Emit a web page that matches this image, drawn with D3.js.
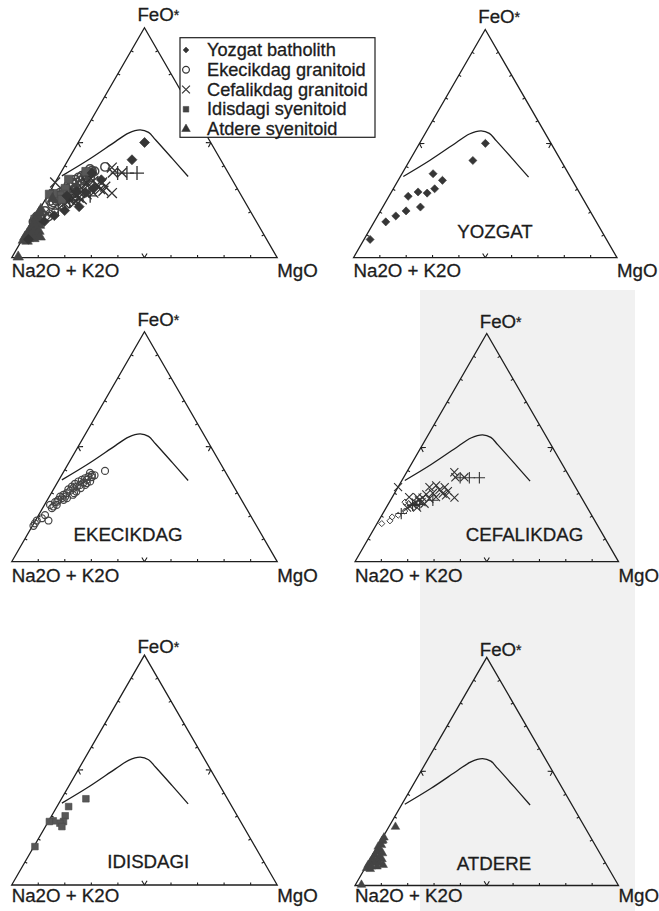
<!DOCTYPE html>
<html>
<head>
<meta charset="utf-8">
<script src="https://cdn.jsdelivr.net/npm/d3@7/dist/d3.min.js"></script>
<style>
  html, body { margin: 0; padding: 0; background: #fff; }
  svg { display: block; }
  text { font-family: "Liberation Sans", Arial, Helvetica, sans-serif; fill: #1c1c1c;
         stroke: #1c1c1c; stroke-width: 0.3; }
</style>
</head>
<body>
<svg id="chart" width="659" height="911"></svg>
<script>
// AFM diagrams: each sample is [Na2O+K2O, FeO*, MgO], normalised to 100
const apexLabels = ["Na2O + K2O", "FeO", "MgO"];

const yozgat = [
  [24.9, 50.1, 25.0], [33.4, 42.6, 24.0], [51.4, 36.8, 11.8], [49.3, 33.9, 16.8],
  [65.8, 26.9, 7.3], [61.1, 28.8, 10.1], [57.9, 28.3, 13.8], [54.1, 30.2, 15.7],
  [63.5, 22.2, 14.3], [69.8, 20.5, 9.7], [74.8, 18.3, 6.9], [79.9, 15.7, 4.4],
  [89.7, 8.0, 2.3]
];

const ekecikdag = [
  [45.1, 39.5, 15.4], [50.9, 37.8, 11.3], [52.6, 37.0, 10.4], [54.2, 36.3, 9.5],
  [55.8, 35.6, 8.6], [57.4, 34.9, 7.7], [59.2, 33.9, 6.9], [61.0, 32.7, 6.3],
  [62.9, 31.5, 5.6], [53.9, 35.6, 10.5], [55.8, 34.4, 9.8], [57.5, 33.4, 9.1],
  [59.1, 32.7, 8.2], [60.8, 32.0, 7.2], [62.5, 30.9, 6.6], [64.4, 29.8, 5.8],
  [65.7, 28.3, 6.0], [67.3, 27.6, 5.1], [69.0, 26.9, 4.1], [70.7, 25.9, 3.4],
  [70.7, 24.7, 4.6], [72.3, 24.0, 3.7], [67.6, 28.3, 4.1], [66.0, 29.1, 4.9],
  [65.4, 27.6, 7.0], [73.2, 23.3, 3.5], [51.4, 36.8, 11.8], [51.2, 38.6, 10.2],
  [77.3, 20.3, 2.4], [77.2, 17.9, 4.9], [79.2, 18.9, 1.9], [81.6, 17.9, 0.5],
  [84.0, 15.6, 0.4], [82.9, 16.7, 0.4], [50.0, 37.6, 12.4], [53.0, 34.9, 12.1],
  [55.7, 33.4, 11.0], [58.0, 32.0, 10.0], [60.4, 30.5, 9.1], [62.4, 29.1, 8.5],
  [67.0, 26.9, 6.1], [69.8, 26.1, 4.1], [73.2, 24.7, 2.1], [54.6, 34.2, 11.2],
  [61.6, 29.8, 8.6]
];

const cefalikdag = [
  [42.7, 39.2, 18.1], [43.4, 37.0, 19.6], [40.0, 37.0, 23.0], [48.2, 28.1, 23.7],
  [67.3, 32.7, 0.0], [65.3, 28.3, 6.4], [55.4, 32.7, 11.9], [52.5, 33.4, 14.1],
  [52.2, 31.5, 16.3], [49.6, 32.7, 17.7], [49.3, 30.9, 19.8], [51.8, 29.8, 18.4],
  [55.4, 30.1, 14.5], [58.2, 29.5, 12.3], [60.3, 28.1, 11.6], [62.3, 26.9, 10.8],
  [64.0, 26.0, 10.0], [65.7, 25.1, 9.2], [67.1, 24.3, 8.6], [62.2, 28.3, 9.5],
  [58.0, 27.6, 14.4], [60.9, 25.4, 13.7], [64.6, 23.7, 11.7], [68.4, 23.7, 7.9],
  [61.7, 26.1, 12.2], [55.1, 28.3, 16.6], [50.9, 29.1, 20.0]
];

// Cefalikdag samples plotted with alternative symbols
const cefalikdagPlus = [
  [34.4, 36.8, 28.8], [38.2, 36.8, 25.0], [41.7, 36.8, 21.5], [71.9, 21.1, 7.0],
  [62.9, 25.1, 12.0], [57.0, 26.9, 16.1], [65.8, 24.7, 9.5]
];
const cefalikdagOpen = [
  [81.5, 16.7, 1.8], [77.8, 17.9, 4.3], [76.1, 19.6, 4.3], [68.0, 26.1, 5.9],
  [70.0, 22.2, 7.8], [73.4, 20.4, 6.2]
];

const idisdagi = [
  [53.3, 37.5, 9.2], [61.5, 34.1, 4.4], [64.8, 30.1, 5.1], [66.7, 27.6, 5.7],
  [68.4, 26.9, 4.7], [70.4, 27.9, 1.7], [72.0, 27.6, 0.4], [68.4, 25.4, 6.2],
  [82.9, 16.7, 0.4]
];

const atdere = [
  [71.8, 25.7, 2.5], [97.4, 0.3, 2.3], [80.0, 19.5, 0.5], [81.1, 17.7, 1.2],
  [82.7, 17.0, 0.3], [82.9, 15.5, 1.6], [84.4, 14.8, 0.8], [82.5, 14.1, 3.4],
  [85.8, 13.4, 0.8], [84.5, 12.6, 2.9], [87.3, 11.9, 0.8], [84.0, 11.5, 4.5],
  [86.3, 10.9, 2.8], [88.9, 10.4, 0.7], [87.9, 9.8, 2.3], [85.8, 9.7, 4.5],
  [90.5, 9.0, 0.5], [89.6, 8.3, 2.1], [87.5, 8.3, 4.2], [91.8, 7.6, 0.6],
  [84.8, 9.0, 6.2], [90.6, 7.2, 2.2], [78.5, 21.0, 0.5], [79.5, 19.8, 0.7]
];

// Tholeiitic / calc-alkaline boundary (Irvine & Baragar, 1971)
const boundary = [
  [63.3, 35.6, 1.1], [49.8, 42.6, 7.6], [35.7, 50.5, 13.8], [28.9, 54.2, 16.9],
  [23.8, 55.6, 20.6], [21.2, 54.5, 24.3], [20.2, 51.3, 28.5], [18.0, 43.3, 38.7],
  [15.9, 35.3, 48.8]
];

const tickValues = [10, 20, 30, 40, 50, 60, 70, 80, 90];
const legendLabels = ["Yozgat batholith", "Ekecikdag granitoid", "Cefalikdag granitoid",
                      "Idisdagi syenitoid", "Atdere syenitoid"];
const panelNames = ["", "YOZGAT", "EKECIKDAG", "CEFALIKDAG", "IDISDAGI", "ATDERE"];

// ---- symbol styles ----
const styles = {
  yozgat:   { type: d3.symbolDiamond2, size: 42, fill: "#363636", stroke: "#363636", sw: 0.6 },
  ekecik:   { type: d3.symbolCircle,   size: 38, fill: "none",    stroke: "#444",    sw: 1.2 },
  cefX:     { type: d3.symbolTimes,    size: 44, fill: "none",    stroke: "#333",    sw: 1.1 },
  cefPlus:  { type: d3.symbolPlus,     size: 44, fill: "none",    stroke: "#333",    sw: 1.1 },
  cefOpen:  { type: d3.symbolDiamond2, size: 24, fill: "none",    stroke: "#444",    sw: 1.0 },
  idis:     { type: d3.symbolSquare,   size: 44, fill: "#585858", stroke: "#4a4a4a", sw: 0.6 },
  atdere:   { type: d3.symbolTriangle, size: 32, fill: "#444",    stroke: "#444",    sw: 0.5 }
};

const allSeries = [
  { data: ekecikdag, style: styles.ekecik },
  { data: cefalikdag, style: styles.cefX },
  { data: cefalikdagPlus, style: styles.cefPlus },
  { data: cefalikdagOpen, style: styles.cefOpen },
  { data: idisdagi, style: styles.idis },
  { data: atdere, style: styles.atdere },
  { data: yozgat, style: styles.yozgat }
];

// ---- panel layout ----
const panels = [
  { x0: 11.7,  y0: 257.7, w: 265.5, feoDy: 6.5, baseDy: 19.5, series: allSeries, legend: true, k: 1.5 },
  { x0: 353.5, y0: 257.7, w: 263.5, feoDy: 6.5, baseDy: 19.5, series: [{ data: yozgat, style: styles.yozgat }],
    name: { dx: 141.5, dy: -19.4 } },
  { x0: 11.7,  y0: 561.7, w: 265.5, feoDy: 6.0, baseDy: 20.5, series: [{ data: ekecikdag, style: styles.ekecik }],
    name: { dx: 116.3, dy: -21 } },
  { x0: 355,   y0: 561.7, w: 263.5, feoDy: 6.0, baseDy: 20.5,
    series: [{ data: cefalikdag, style: styles.cefX }, { data: cefalikdagPlus, style: styles.cefPlus },
             { data: cefalikdagOpen, style: styles.cefOpen }],
    name: { dx: 169.5, dy: -21 } },
  { x0: 11.7,  y0: 885,   w: 265.5, feoDy: 1.8, baseDy: 16.5, series: [{ data: idisdagi, style: styles.idis }],
    name: { dx: 136.6, dy: -16.7 } },
  { x0: 355,   y0: 885.5, w: 263.5, feoDy: 1.8, baseDy: 16.5, series: [{ data: atdere, style: styles.atdere }],
    name: { dx: 139, dy: -15.5 } }
];

const svg = d3.select("#chart");

// light grey tone of the scanned page
svg.append("rect").attr("x", 420).attr("y", 290).attr("width", 215).attr("height", 621)
  .attr("fill", "#f1f1f1");

panels.forEach((p, i) => {
  const h = p.w * Math.sqrt(3) / 2;
  const k = p.k || 1;
  // x: position along the base (MgO + FeO*/2), y: FeO* fraction
  const xs = d3.scaleLinear().domain([0, 100]).range([p.x0, p.x0 + p.w]);
  const ys = d3.scaleLinear().domain([0, 100]).range([p.y0, p.y0 - h]);
  const proj = d => [xs(d[2] + d[1] / 2), ys(d[1])];

  const g = svg.append("g");

  // triangle frame
  const corners = [[100, 0, 0], [0, 100, 0], [0, 0, 100]];
  g.append("path")
    .attr("d", d3.line()(corners.map(proj)) + "Z")
    .attr("fill", "none").attr("stroke", "#1e1e1e").attr("stroke-width", 1.3)
    .attr("stroke-linejoin", "miter");

  // ticks on each edge, pointing inward; chevron at 50 %
  const edges = [
    { from: [100, 0, 0], to: [0, 0, 100], n: [0, -1] },                    // base
    { from: [100, 0, 0], to: [0, 100, 0], n: [Math.sqrt(3) / 2, 0.5] },    // left side
    { from: [0, 100, 0], to: [0, 0, 100], n: [-Math.sqrt(3) / 2, 0.5] }    // right side
  ];
  const tickPath = d3.path();
  edges.forEach(e => {
    tickValues.forEach(t => {
      const pt = e.from.map((v, j) => v + (e.to[j] - v) * t / 100);
      const [x, y] = proj(pt);
      if (t === 50) {
        const L = 5, a = 0.55;
        [-a, a].forEach(ang => {
          const c = Math.cos(ang), s = Math.sin(ang);
          const dx = e.n[0] * c - e.n[1] * s, dy = e.n[0] * s + e.n[1] * c;
          tickPath.moveTo(x, y); tickPath.lineTo(x + dx * L, y + dy * L);
        });
      } else {
        tickPath.moveTo(x, y); tickPath.lineTo(x + e.n[0] * 2.6, y + e.n[1] * 2.6);
      }
    });
  });
  g.append("path").attr("d", tickPath.toString())
    .attr("fill", "none").attr("stroke", "#1e1e1e").attr("stroke-width", 1.1);

  // boundary line
  g.append("path")
    .attr("d", d3.line().curve(d3.curveCatmullRom.alpha(0.5))(boundary.map(proj)))
    .attr("fill", "none").attr("stroke", "#1e1e1e").attr("stroke-width", 1.3);

  // samples
  p.series.forEach(s => {
    g.append("g").selectAll("path").data(s.data).join("path")
      .attr("transform", d => `translate(${proj(d)})`)
      .attr("d", d3.symbol().type(s.style.type).size(s.style.size * k))
      .attr("fill", s.style.fill).attr("stroke", s.style.stroke)
      .attr("stroke-width", s.style.sw * (k > 1 ? 1.2 : 1));
  });

  // vertex labels
  const apex = proj([0, 100, 0]);
  const feo = g.append("text").attr("x", apex[0] - 7).attr("y", apex[1] - p.feoDy)
    .attr("font-size", 18.7).text(apexLabels[1]);
  feo.append("tspan").attr("font-size", 14).attr("dy", -1).text("*");
  g.append("text").attr("x", p.x0).attr("y", p.y0 + p.baseDy)
    .attr("font-size", 18.7).text(apexLabels[0]);
  g.append("text").attr("x", p.x0 + p.w).attr("y", p.y0 + p.baseDy)
    .attr("font-size", 18.7).text(apexLabels[2]);

  if (p.name) {
    g.append("text").attr("x", p.x0 + p.name.dx).attr("y", p.y0 + p.name.dy)
      .attr("text-anchor", "middle").attr("font-size", 18.7).text(panelNames[i]);
  }

  if (p.legend) {
    const lg = svg.append("g");
    lg.append("rect").attr("x", 180).attr("y", 37.7).attr("width", 195).attr("height", 99.6)
      .attr("fill", "#fff").attr("stroke", "#1e1e1e").attr("stroke-width", 1.2);
    const legendStyles = [
      { type: d3.symbolDiamond2, size: 22, fill: "#333", stroke: "#333", sw: 0.5 },
      { type: d3.symbolCircle, size: 36, fill: "none", stroke: "#333", sw: 1.2 },
      { type: d3.symbolTimes, size: 42, fill: "none", stroke: "#333", sw: 1.2 },
      { type: d3.symbolSquare, size: 32, fill: "#444", stroke: "#444", sw: 0.5 },
      { type: d3.symbolTriangle, size: 32, fill: "#333", stroke: "#333", sw: 0.5 }
    ];
    const rowY = d3.scalePoint().domain(legendLabels).range([50, 129]);
    legendLabels.forEach((lab, j) => {
      const st = legendStyles[j];
      lg.append("path").attr("transform", `translate(186,${rowY(lab)})`)
        .attr("d", d3.symbol().type(st.type).size(st.size))
        .attr("fill", st.fill).attr("stroke", st.stroke).attr("stroke-width", st.sw);
      lg.append("text").attr("x", 207).attr("y", rowY(lab) + 6)
        .attr("font-size", 18.2).text(lab);
    });
  }
});
</script>
</body>
</html>
